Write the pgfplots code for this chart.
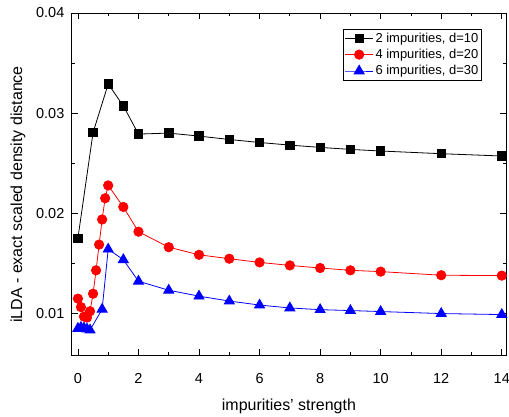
\documentclass[border=0pt]{standalone}
\usepackage{fontspec}
\setmainfont{Liberation Sans}
\usepackage{pgfplots}
\pgfplotsset{compat=1.18}
\begin{document}
\begin{tikzpicture}
\begin{axis}[
  scale only axis, width=435pt, height=343pt,
  at={(0,0)}, anchor=south west,
  xmin=-0.2, xmax=14.14, ymin=0.0058, ymax=0.04,
  xtick={0,2,...,14}, minor xtick={1,3,...,13},
  ytick={0.01,0.02,0.03,0.04}, minor ytick={0.005,0.015,0.025,0.035},
  tick align=inside, major tick length=6pt, minor tick length=3.5pt,
  tick style={black, line width=0.8pt},
  axis line style={line width=0.9pt},
  /pgf/number format/assume math mode=true,
  yticklabel style={/pgf/number format/fixed, /pgf/number format/precision=2, font=\fontsize{14.5}{16}\selectfont, xshift=-4pt},
  scaled y ticks=false,
  xticklabel style={font=\fontsize{14.5}{16}\selectfont, yshift=-15pt},
  xlabel={\fontsize{16}{18}\selectfont impurities' strength},
  ylabel={\fontsize{16}{18}\selectfont iLDA - exact scaled density distance},
  xlabel style={at={(axis description cs:0.5,0)}, anchor=center, yshift=-51pt},
  ylabel style={at={(axis description cs:0,0.47)}, anchor=center, rotate=0, yshift=54pt},
  legend style={at={(axis cs:13.35,0.0384)}, anchor=north east, font=\fontsize{13}{15}\selectfont,
    draw=black, line width=0.6pt, inner sep=1.5pt, row sep=1.5pt, legend cell align=left},
  legend image code/.code={\draw[#1, mark repeat=2, mark phase=2] plot coordinates {(0pt,0pt) (14pt,0pt) (28pt,0pt)};},
]
\addplot[black, line width=0.8pt, mark=square*, mark size=4.2pt, mark options={solid}] coordinates {
(0,0.0175) (0.5,0.02805) (1,0.0329) (1.5,0.03072) (2,0.0279) (3,0.0280) (4,0.0277)
(5,0.02736) (6,0.02706) (7,0.0268) (8,0.02657) (9,0.02637) (10,0.02621) (12,0.02594) (14,0.02571)};
\addlegendentry{2 impurities, d=10}
\addplot[red, line width=0.8pt, mark=*, mark size=4.7pt] coordinates {
(0,0.01146) (0.1,0.01062) (0.2,0.00967) (0.3,0.00957) (0.4,0.0102) (0.5,0.01195) (0.6,0.01429)
(0.7,0.01686) (0.8,0.01937) (0.9,0.02149) (1,0.02277) (1.5,0.02062) (2,0.01815) (3,0.0166) (4,0.01584)
(5,0.01545) (6,0.01508) (7,0.01478) (8,0.01452) (9,0.01429) (10,0.01416) (12,0.0138) (14,0.01376)};
\addlegendentry{4 impurities, d=20}
\addplot[blue, line width=0.8pt, mark=triangle*, mark size=5.8pt] coordinates {
(0,0.00848) (0.1,0.00858) (0.2,0.00852) (0.3,0.00842) (0.4,0.00832) (0.8,0.0104) (1,0.0164) (1.5,0.01535)
(2,0.0132) (3,0.0123) (4,0.01171) (5,0.01122) (6,0.01082) (7,0.01053) (8,0.01036) (9,0.01027)
(10,0.01017) (12,0.00997) (14,0.00987)};
\addlegendentry{6 impurities, d=30}
\end{axis}
\pgfresetboundingbox
\path[use as bounding box] (-72pt,-61pt) rectangle (438pt,356pt);
\end{tikzpicture}
\end{document}
